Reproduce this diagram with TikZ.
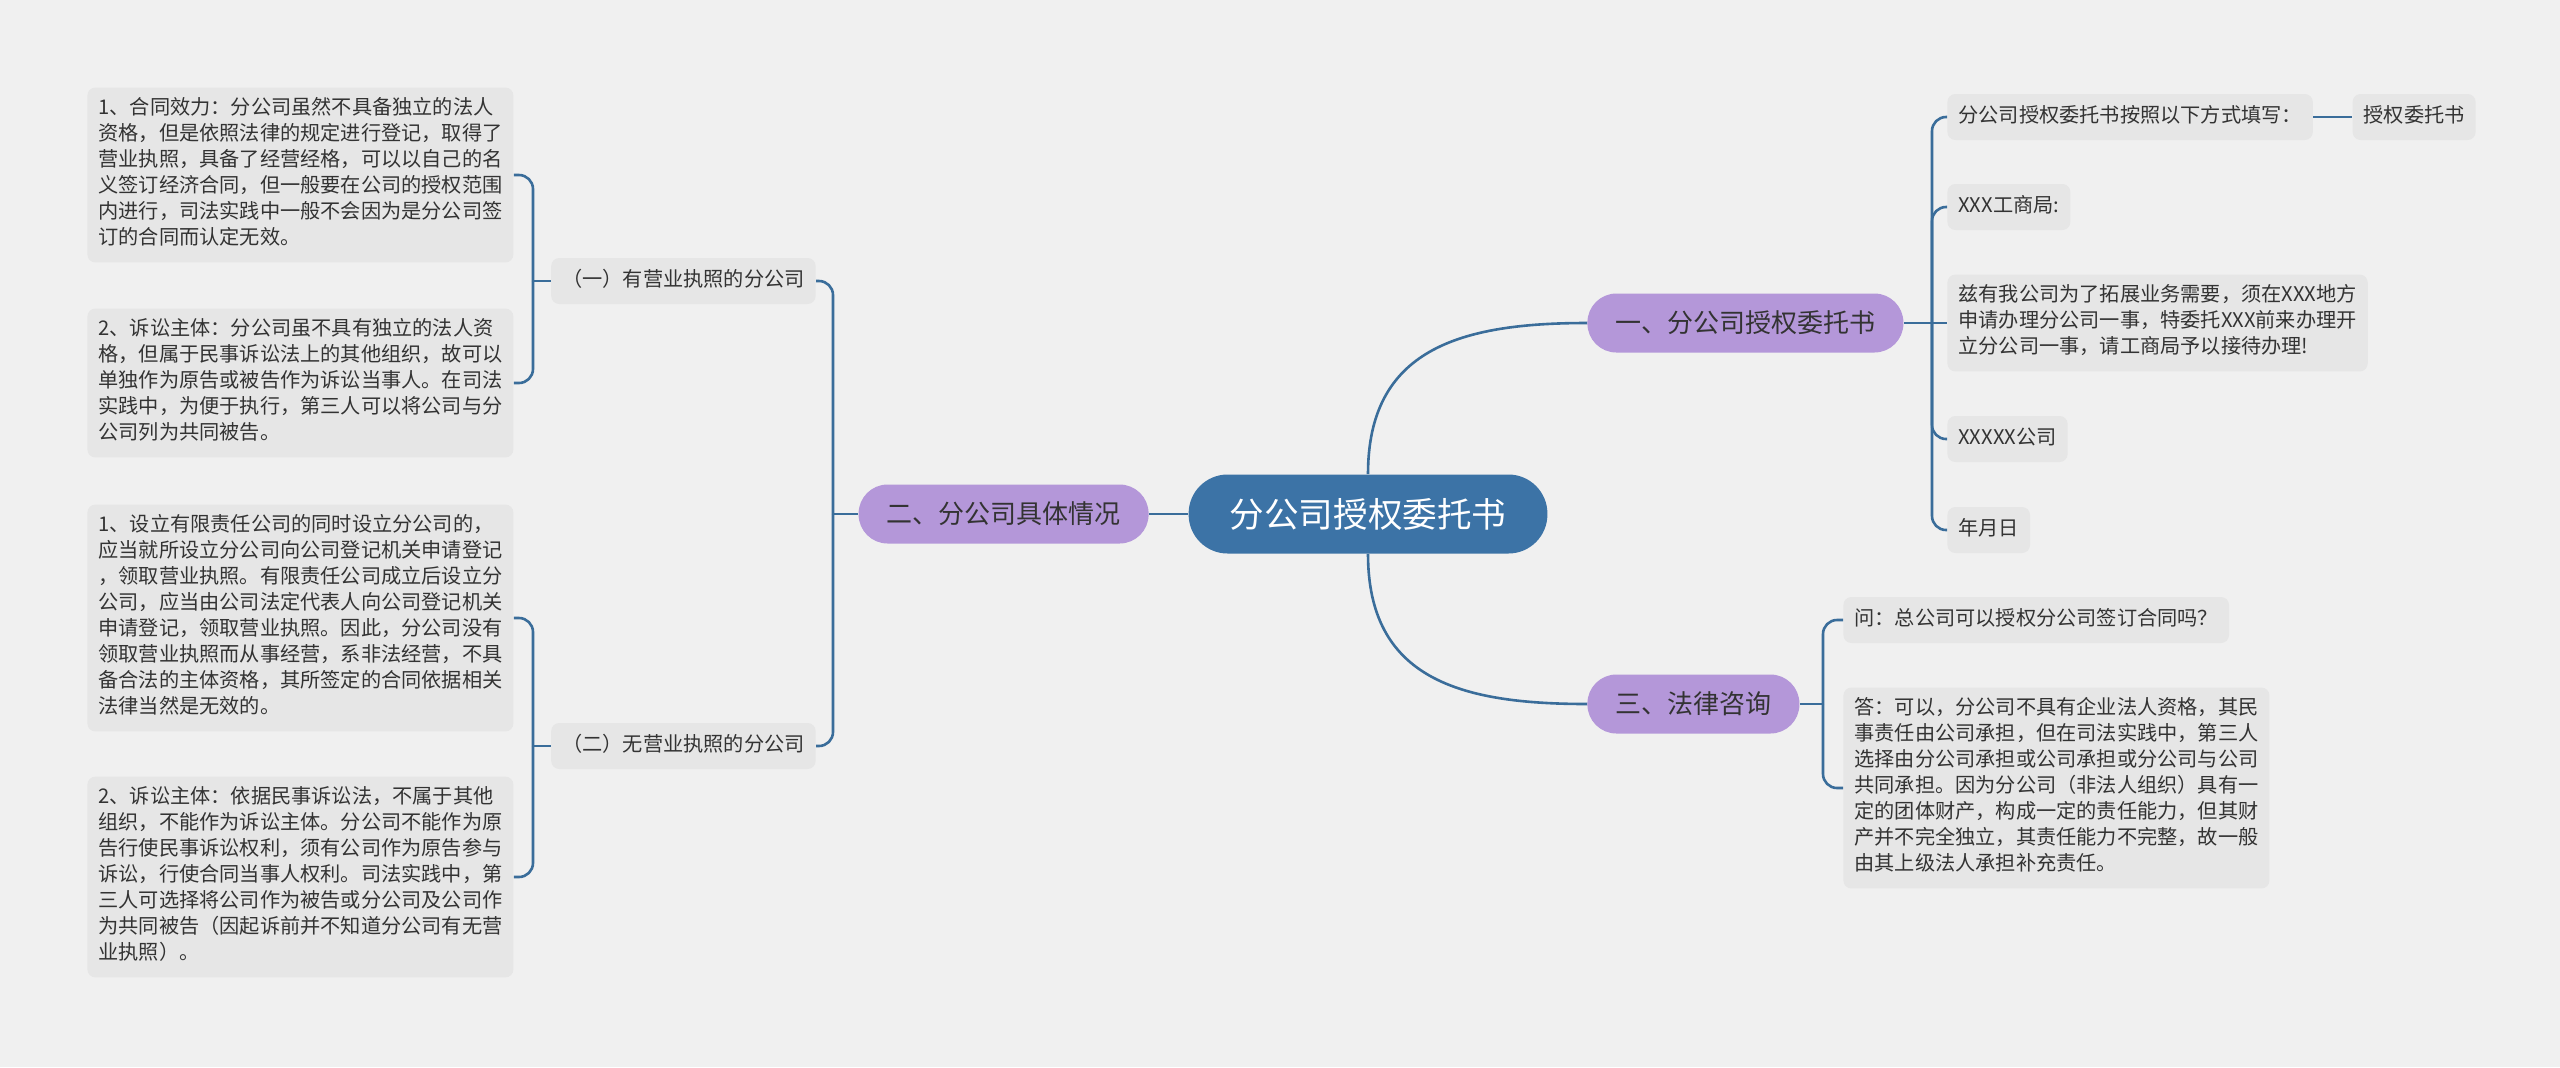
\documentclass[tikz,border=0pt]{standalone}
\usepackage{fontspec}
\setmainfont{Noto Sans CJK SC}
\usetikzlibrary{positioning}
\definecolor{bg}{HTML}{F0F0F0}
\definecolor{leafbg}{HTML}{E6E6E6}
\definecolor{lineblue}{HTML}{3A6D9A}
\definecolor{rootblue}{HTML}{3C73A6}
\definecolor{topicpurple}{HTML}{B497D9}
\definecolor{txt}{HTML}{333333}
\begin{document}
\begin{tikzpicture}[x=0.5pt, y=-0.5pt,
  ln/.style={draw=lineblue, line width=1.3pt, rounded corners=7pt},
  root/.style={fill=rootblue, text=white, font=\fontsize{17.3pt}{20pt}\selectfont, rounded corners=19.5pt, minimum height=39.5pt, inner xsep=20.5pt},
  topic/.style={fill=topicpurple, text=txt, font=\fontsize{13pt}{16pt}\selectfont, rounded corners=14.5pt, minimum height=29.5pt, inner xsep=14pt},
  leaf/.style={fill=leafbg, text=txt, font=\fontsize{10.1pt}{13pt}\selectfont, rounded corners=4pt, align=left, inner xsep=5.5pt, inner ysep=5pt, execute at begin node=\strut, execute at end node=\strut}]
  \fill[bg] (0,0) rectangle (2560,1067);
  \useasboundingbox (0,0) rectangle (2560,1067);

  % centre and main topics
  \node[root] (root) at (1368,514) {分公司授权委托书};
  \node[topic, anchor=west] (t1) at (1587,323) {一、分公司授权委托书};
  \node[topic, anchor=east] (t2) at (1149,514) {二、分公司具体情况};
  \node[topic, anchor=west] (t3) at (1587,704) {三、法律咨询};

  % left branch
  \node[leaf, anchor=east] (k1) at (816,281) {（一）有营业执照的分公司};
  \node[leaf, anchor=east] (k2) at (816,746) {（二）无营业执照的分公司};
  \node[leaf, anchor=west] (k1a) at (87,175) {1、合同效力：分公司虽然不具备独立的法人\\资格，但是依照法律的规定进行登记，取得了\\营业执照，具备了经营经格，可以以自己的名\\义签订经济合同，但一般要在公司的授权范围\\内进行，司法实践中一般不会因为是分公司签\\订的合同而认定无效。};
  \node[leaf, anchor=west] (k1b) at (87,383) {2、诉讼主体：分公司虽不具有独立的法人资\\格，但属于民事诉讼法上的其他组织，故可以\\单独作为原告或被告作为诉讼当事人。在司法\\实践中，为便于执行，第三人可以将公司与分\\公司列为共同被告。};
  \node[leaf, anchor=west] (k2a) at (87,618) {1、设立有限责任公司的同时设立分公司的，\\应当就所设立分公司向公司登记机关申请登记\\，领取营业执照。有限责任公司成立后设立分\\公司，应当由公司法定代表人向公司登记机关\\申请登记，领取营业执照。因此，分公司没有\\领取营业执照而从事经营，系非法经营，不具\\备合法的主体资格，其所签定的合同依据相关\\法律当然是无效的。};
  \node[leaf, anchor=west] (k2b) at (87,877) {2、诉讼主体：依据民事诉讼法，不属于其他\\组织，不能作为诉讼主体。分公司不能作为原\\告行使民事诉讼权利，须有公司作为原告参与\\诉讼，行使合同当事人权利。司法实践中，第\\三人可选择将公司作为被告或分公司及公司作\\为共同被告（因起诉前并不知道分公司有无营\\业执照）。};

  % right branch
  \node[leaf, anchor=west] (f1) at (1947,117) {分公司授权委托书按照以下方式填写：};
  \node[leaf, right=19.5pt of f1] (f1b) {授权委托书};
  \node[leaf, anchor=west] (f2) at (1947,207) {XXX工商局:};
  \node[leaf, anchor=west] (f3) at (1947,323) {兹有我公司为了拓展业务需要，须在XXX地方\\申请办理分公司一事，特委托XXX前来办理开\\立分公司一事，请工商局予以接待办理!};
  \node[leaf, anchor=west] (f4) at (1947,439) {XXXXX公司};
  \node[leaf, anchor=west] (f5) at (1947,530) {年月日};
  \node[leaf, anchor=west] (q) at (1843,620) {问：总公司可以授权分公司签订合同吗？};
  \node[leaf, anchor=west] (a) at (1843,788) {答：可以，分公司不具有企业法人资格，其民\\事责任由公司承担，但在司法实践中，第三人\\选择由分公司承担或公司承担或分公司与公司\\共同承担。因为分公司（非法人组织）具有一\\定的团体财产，构成一定的责任能力，但其财\\产并不完全独立，其责任能力不完整，故一般\\由其上级法人承担补充责任。};

  % junctions
  \coordinate (j1) at (1932,323);
  \coordinate (j2) at (833,514);
  \coordinate (j3) at (1823,704);
  \coordinate (jk1) at (533,281);
  \coordinate (jk2) at (533,746);

  % connectors
  \draw[ln] (root.west) -- (t2.east);
  \draw[ln] (root.north) .. controls +(0,-125) and +(-127,0) .. (t1.west);
  \draw[ln] (root.south) .. controls +(0,125) and +(-127,0) .. (t3.west);

  \draw[ln] (t2.west) -- (j2);
  \draw[ln] (j2) |- (k1.east);
  \draw[ln] (j2) |- (k2.east);
  \draw[ln] (k1.west) -- (jk1);
  \draw[ln] (jk1) |- (k1a.east);
  \draw[ln] (jk1) |- (k1b.east);
  \draw[ln] (k2.west) -- (jk2);
  \draw[ln] (jk2) |- (k2a.east);
  \draw[ln] (jk2) |- (k2b.east);

  \draw[ln] (t1.east) -- (j1);
  \draw[ln] (j1) |- (f1.west);
  \draw[ln] (j1) |- (f2.west);
  \draw[ln] (j1) -- (f3.west);
  \draw[ln] (j1) |- (f4.west);
  \draw[ln] (j1) |- (f5.west);
  \draw[ln] (f1) -- (f1b);

  \draw[ln] (t3.east) -- (j3);
  \draw[ln] (j3) |- (q.west);
  \draw[ln] (j3) |- (a.west);
\end{tikzpicture}
\end{document}
